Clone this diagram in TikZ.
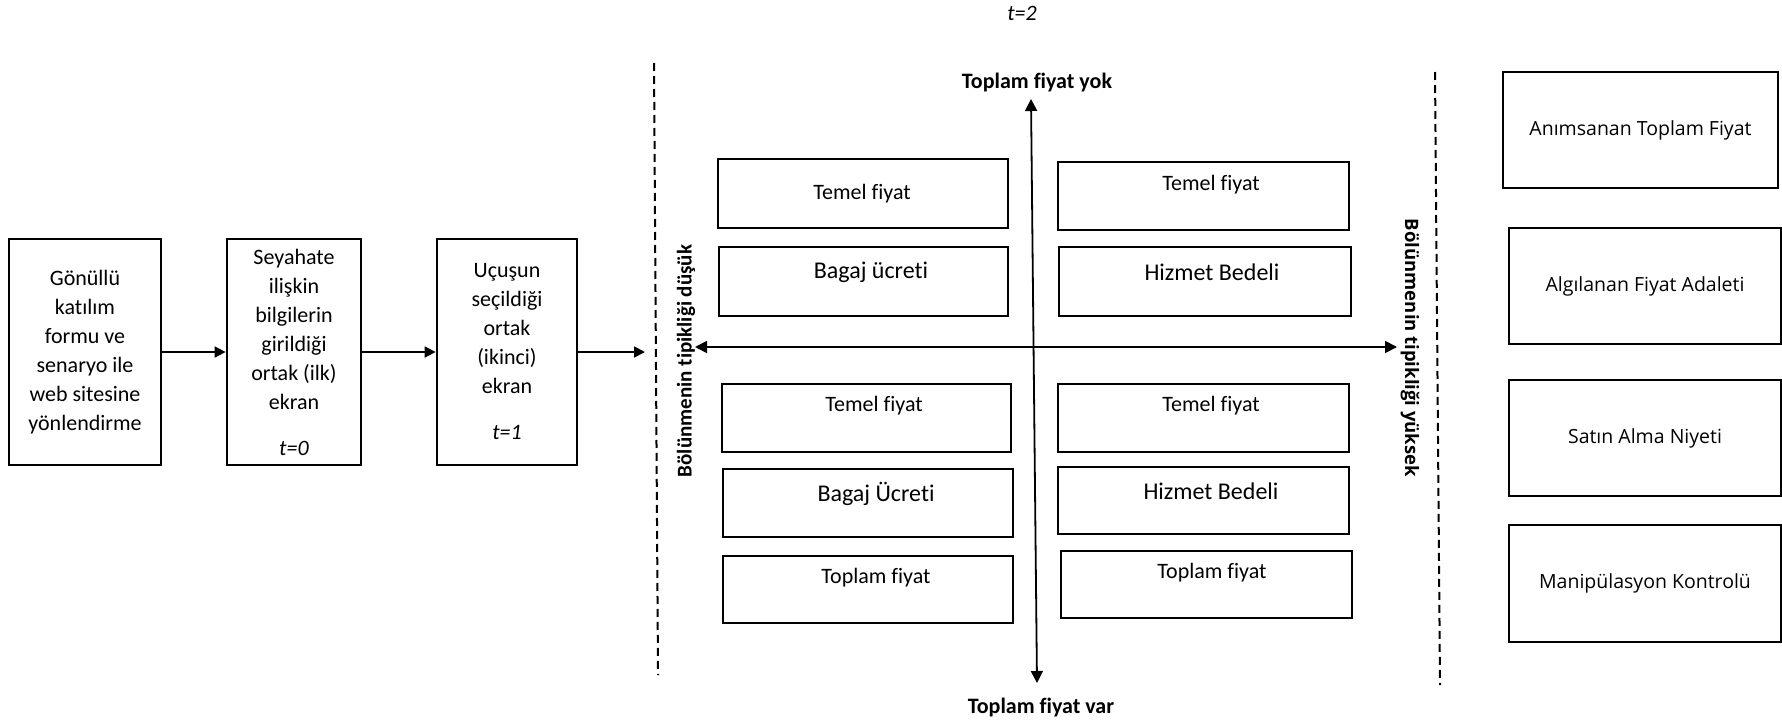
\documentclass[tikz,border=0pt]{standalone}
\usepackage{fontspec}
\setmainfont{Carlito}[Ligatures={NoCommon,NoRequired,NoContextual}, Contextuals=NoAlternate]
\newfontfamily\uisans{Open Sans}[Ligatures={NoCommon,NoContextual}]
\usetikzlibrary{arrows.meta}
\begin{document}
\begin{tikzpicture}[x=1pt,y=-1pt,
  box/.style={draw, line width=2.8pt, inner sep=0pt, align=center},
  flowbox/.style={box, font=\fontsize{22}{29}\selectfont},
  flow/.style={-{Triangle[length=11pt,width=11pt]}, line width=1.8pt},
  axis/.style={{Triangle[length=12pt,width=12pt]}-{Triangle[length=12pt,width=12pt]}, line width=1.8pt},
  divider/.style={dash pattern=on 8pt off 5pt, line width=2pt},
  qsmall/.style={font=\fontsize{22}{26}\selectfont},
  qlarge/.style={font=\fontsize{24}{28}\selectfont},
  rtext/.style={font=\uisans\fontsize{19.5}{24}\selectfont},
  axislabel/.style={font=\bfseries\fontsize{22}{26}\selectfont}]

% canvas
\fill[white] (0,0) rectangle (1782,725);
\useasboundingbox (0,0) rectangle (1782,725);

% ---- process chain ----
\node[flowbox, minimum width=152pt, minimum height=226pt] (form) at (85,352)
  {Gönüllü\\katılım\\formu ve\\senaryo ile\\web sitesine\\yönlendirme};
\node[flowbox, minimum width=134pt, minimum height=226pt] (first) at (294,352)
  {Seyahate\\ilişkin\\bilgilerin\\girildiği\\ortak (ilk)\\ekran\\[17pt]\textit{t=0}};
\node[flowbox, minimum width=140pt, minimum height=226pt] (second) at (507,352)
  {Uçuşun\\seçildiği\\ortak\\(ikinci)\\ekran\\[17pt]\textit{t=1}};
\coordinate (chainend) at (645,352);

\draw[flow] (form.east) -- (first.west);
\draw[flow] (first.east) -- (second.west);
\draw[flow] (second.east) -- (chainend);

% ---- dividers ----
\coordinate (dl1) at (654,63);
\coordinate (dl2) at (658,675);
\coordinate (dr1) at (1435,72);
\coordinate (dr2) at (1440,685);
\draw[divider] (dl1) -- (dl2);
\draw[divider] (dr1) -- (dr2);

\node[rotate=90, font=\bfseries\fontsize{21}{25}\selectfont] (low) at (686,361)
  {Bölünmenin tipikliği düşük};
\node[rotate=-90, font=\uisans\bfseries\fontsize{18.5}{22}\selectfont] (high) at (1410,348)
  {Bölünmenin tipikliği yüksek};

% ---- axes ----
\node[font=\itshape\fontsize{22}{26}\selectfont] (t2) at (1022,13) {t=2};
\node[axislabel] (yok) at (1037,83) {Toplam fiyat yok};
\node[axislabel] (var) at (1041,708) {Toplam fiyat var};
\coordinate (hl) at (695,347);
\coordinate (hr) at (1397,347);
\coordinate (vt) at (1031,99);
\coordinate (vb) at (1037,683);
\draw[axis] (hl) -- (hr);
\draw[axis] (vt) -- (vb);

% ---- quadrant boxes, upper half ----
\node[box, minimum width=290pt, minimum height=69pt] (tl1) at (863,193.5) {};
\node[box, minimum width=289pt, minimum height=69pt] (tl2) at (863.5,281.5) {};
\node[box, minimum width=291pt, minimum height=68pt] (tr1) at (1203.5,196) {};
\node[box, minimum width=292pt, minimum height=69pt] (tr2) at (1205,281.5) {};
\node[qsmall] (tl1t) at (862,194) {Temel fiyat};
\node[qlarge] (tl2t) at (871,272) {Bagaj ücreti};
\node[qsmall] (tr1t) at (1211,185) {Temel fiyat};
\node[qlarge] (tr2t) at (1212,272) {Hizmet Bedeli};

% ---- quadrant boxes, lower half ----
\node[box, minimum width=289pt, minimum height=68pt] (bl1) at (866.5,418) {};
\node[box, minimum width=290pt, minimum height=68pt] (bl2) at (868,503) {};
\node[box, minimum width=290pt, minimum height=67pt] (bl3) at (868,589.5) {};
\node[box, minimum width=291pt, minimum height=68pt] (br1) at (1203.5,418) {};
\node[box, minimum width=291pt, minimum height=67pt] (br2) at (1203.5,500.5) {};
\node[box, minimum width=291pt, minimum height=67pt] (br3) at (1206.5,584.5) {};
\node[qsmall] (bl1t) at (874,406) {Temel fiyat};
\node[qlarge] (bl2t) at (876,494) {Bagaj Ücreti};
\node[qsmall] (bl3t) at (876,578) {Toplam fiyat};
\node[qsmall] (br1t) at (1211,406) {Temel fiyat};
\node[qlarge] (br2t) at (1211,491) {Hizmet Bedeli};
\node[qsmall] (br3t) at (1212,573) {Toplam fiyat};

% ---- measured outcomes ----
\node[box, rtext, minimum width=275pt, minimum height=116pt] (recall) at (1640.5,130)
  {Anımsanan Toplam Fiyat};
\node[box, rtext, minimum width=272pt, minimum height=116pt] (fair) at (1645,286)
  {Algılanan Fiyat Adaleti};
\node[box, rtext, minimum width=272pt, minimum height=116pt] (intent) at (1645,438)
  {Satın Alma Niyeti};
\node[box, rtext, minimum width=272pt, minimum height=117pt] (manip) at (1645,583.5)
  {Manipülasyon Kontrolü};
\end{tikzpicture}
\end{document}
